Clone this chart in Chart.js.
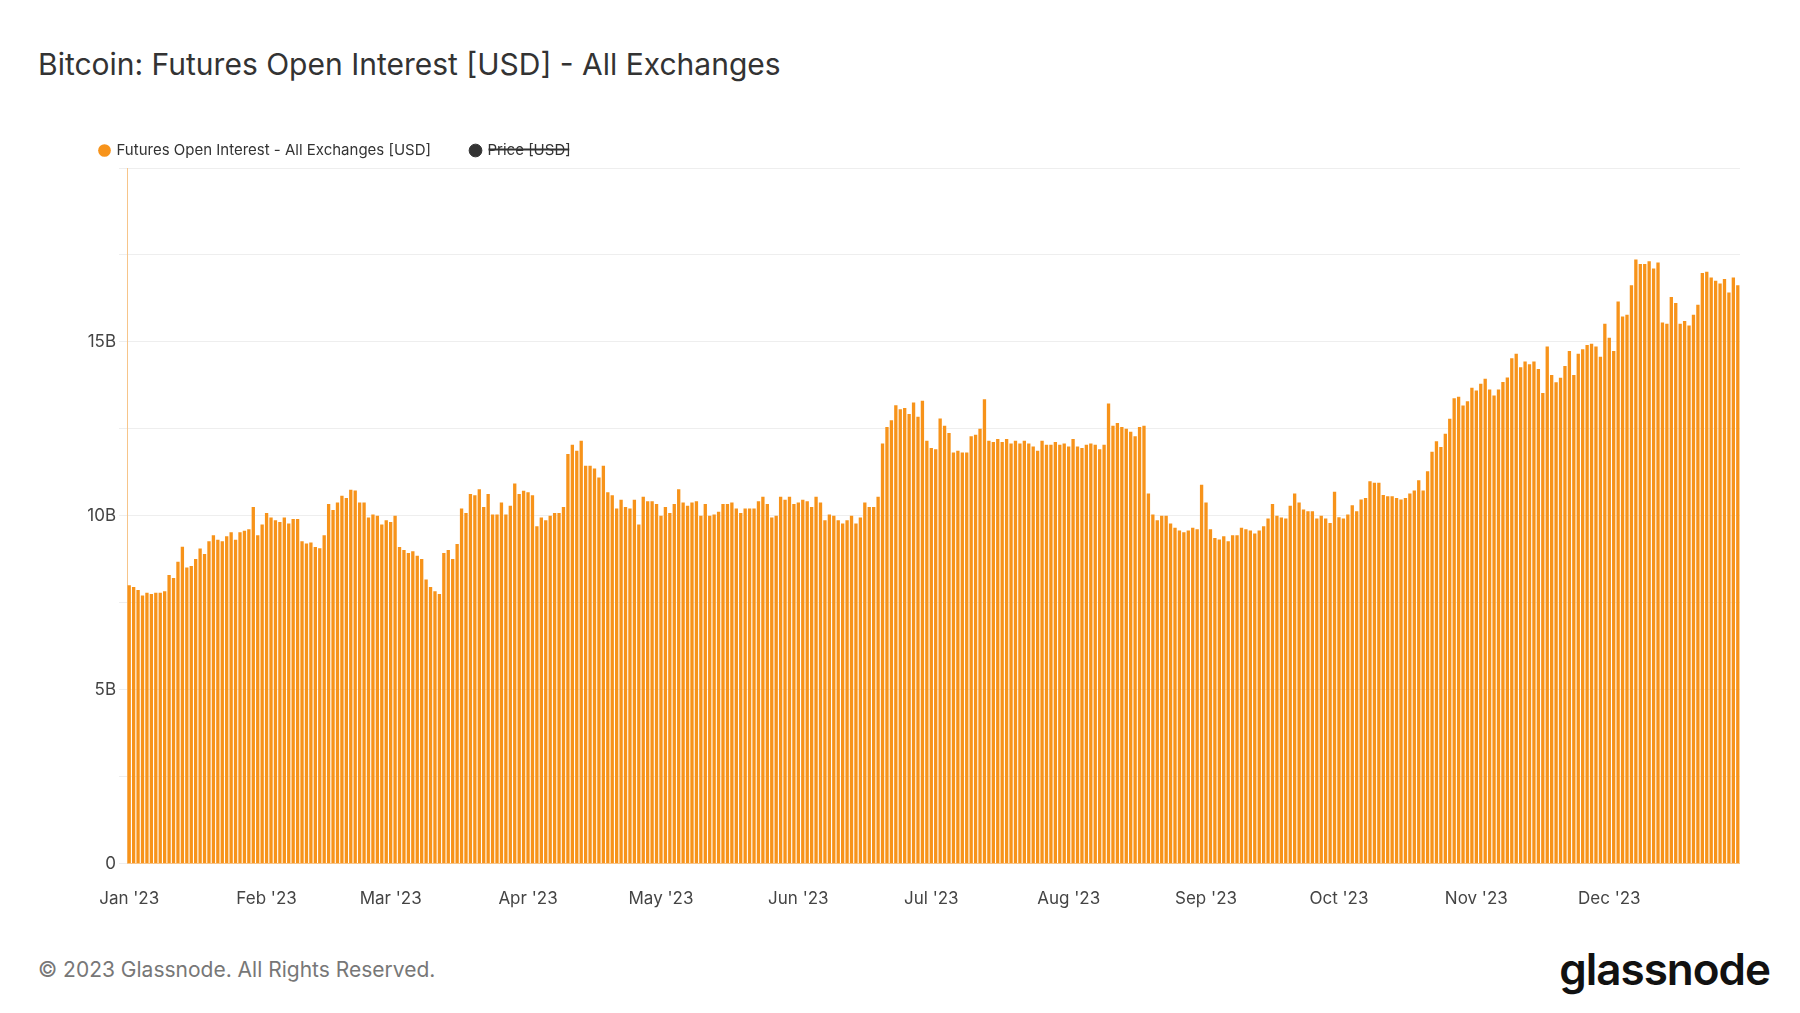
<!DOCTYPE html>
<html><head><meta charset="utf-8">
<script src="https://cdn.jsdelivr.net/npm/chart.js@4/dist/chart.umd.min.js"></script>
<style>
body{margin:0;background:#fff;font-family:Inter,"Noto Sans",sans-serif;width:1800px;height:1013px;overflow:hidden;position:relative}
#title{position:absolute;left:38px;top:46px;font-size:30px;color:#333;font-weight:400}
#foot{position:absolute;left:38px;top:957px;font-size:21px;color:#777}
#logo{position:absolute;right:30px;top:942px;font-size:44px;color:#111;font-weight:600;letter-spacing:-1px}
#wrap{position:absolute;left:60px;top:103px;width:1680px;height:823px}
</style></head><body>
<div id="title">Bitcoin: Futures Open Interest [USD] - All Exchanges</div>
<div id="wrap"><canvas id="c"></canvas></div>
<div id="foot">© 2023 Glassnode. All Rights Reserved.</div>
<div id="logo">glassnode</div>
<script>
const startDate = "2023-01-01";
const openInterestB = [
8.0,7.95,7.87,7.71,7.79,7.75,7.79,7.79,7.83,8.30,8.21,8.68,9.11,8.51,8.56,8.76,9.06,8.90,9.27,9.44,9.31,9.27,9.41,9.53,9.31,9.53,9.57,9.61,10.25,9.44,9.75,10.08,9.95,9.87,9.82,9.95,9.78,9.91,9.91,9.27,9.2,9.23,9.1,9.07,9.44,10.34,10.17,10.38,10.58,10.51,10.75,10.73,10.38,10.38,9.95,10.04,10.0,9.75,9.87,9.82,10.0,9.1,9.02,8.93,8.98,8.85,
8.76,8.17,7.95,7.83,7.75,8.93,9.02,8.76,9.19,10.21,10.08,10.63,10.59,10.76,10.25,10.63,10.04,10.04,10.38,10.04,10.29,10.93,10.63,10.72,10.68,10.59,9.7,9.95,9.87,10.0,10.08,10.08,10.25,11.78,12.04,11.87,12.16,11.44,11.44,11.36,11.1,11.44,10.68,10.59,10.21,10.46,10.25,10.21,10.46,9.75,10.55,10.42,10.42,10.34,10.0,10.25,10.08,10.34,10.76,10.38,10.29,10.38,10.42,10.0,10.34,10.0,
10.04,10.12,10.34,10.34,10.38,10.21,10.08,10.21,10.21,10.21,10.42,10.55,10.34,9.95,10.0,10.55,10.46,10.55,10.34,10.38,10.46,10.42,10.25,10.55,10.38,9.87,10.04,10.0,9.87,9.78,9.87,10.0,9.78,9.95,10.38,10.25,10.25,10.55,12.08,12.55,12.75,13.18,13.06,13.1,12.93,13.26,12.85,13.31,12.16,11.95,11.91,12.8,12.59,12.38,11.82,11.87,11.82,11.82,12.29,12.33,12.5,13.35,12.16,12.12,12.21,
12.12,12.21,12.08,12.16,12.08,12.16,12.08,11.99,11.87,12.16,12.04,12.04,12.12,12.04,12.08,11.99,12.21,11.99,11.95,12.04,12.08,12.04,11.91,12.04,13.23,12.59,12.67,12.55,12.5,12.42,12.29,12.55,12.59,10.64,10.04,9.87,10.0,10.0,9.78,9.66,9.58,9.53,9.58,9.66,9.61,10.89,10.38,9.61,9.36,9.32,9.41,9.27,9.44,9.44,9.66,9.61,9.58,9.49,9.58,9.7,9.92,10.34,10.0,9.95,9.92,10.29,10.64,10.38,
10.18,10.13,10.13,9.92,10.0,9.92,9.79,10.69,9.96,9.92,10.04,10.3,10.13,10.47,10.51,10.99,10.95,10.95,10.6,10.56,10.56,10.51,10.47,10.51,10.64,10.73,11.02,10.73,11.28,11.84,12.14,11.98,12.36,12.79,13.38,13.42,13.17,13.29,13.68,13.6,13.8,13.94,13.63,13.46,13.63,13.85,13.98,
14.53,14.66,14.27,14.44,14.36,14.44,14.22,13.53,14.87,14.05,13.84,13.97,14.31,14.74,14.05,14.66,14.79,14.91,14.95,14.87,14.57,15.52,15.12,14.74,16.16,15.73,15.78,16.63,17.37,17.24,17.24,17.32,17.11,17.28,15.56,15.52,16.29,16.12,15.52,15.6,15.47,15.78,16.07,16.98,17.02,16.85,16.76,16.68,16.81,16.42,16.85,16.63
];
const priceUSD = [];
const monthNames = ["Jan","Feb","Mar","Apr","May","Jun","Jul","Aug","Sep","Oct","Nov","Dec"];
const labels = openInterestB.map((_, i) => { const d = new Date(startDate + "T00:00:00Z"); d.setUTCDate(d.getUTCDate() + i); return d.toISOString().slice(0,10); });
const values = openInterestB.map(v => v * 1e9);
const font = {family:"Inter, 'Noto Sans', sans-serif", size:17};
new Chart(document.getElementById('c'), {
  data:{labels, datasets:[
    {type:'bar', label:'Futures Open Interest - All Exchanges [USD]', data:values, backgroundColor:'#f7931a', borderColor:'#f7931a', borderWidth:0, barPercentage:0.75, categoryPercentage:1, yAxisID:'y'},
    {type:'line', label:'Price [USD]', data:priceUSD, hidden:true, borderColor:'#333', backgroundColor:'#333', yAxisID:'y'}
  ]},
  options:{responsive:true, maintainAspectRatio:false, animation:false,
    layout:{padding:{left:0,right:0,top:0,bottom:0}},
    plugins:{legend:{position:'top', align:'start', labels:{usePointStyle:true, pointStyle:'circle', boxWidth:9, boxHeight:9, color:'#333', font:{...font, size:15}, padding:40}}, tooltip:{enabled:false}},
    scales:{
      x:{grid:{display:false, drawTicks:true}, border:{color:'#f7c58a'},
        ticks:{autoSkip:false, maxRotation:0, color:'#444', font, padding:17,
          callback:function(v,i){const s=labels[i]; if(s.slice(8)==='01'){return monthNames[+s.slice(5,7)-1]+" '23";} return null;}}},
      y:{min:0, max:20e9, afterFit:a=>{a.width=67;}, grid:{color:'#eee'}, border:{display:true,color:'#f7c58a'},
        ticks:{stepSize:2.5e9, color:'#444', font, callback:v=> (v%5e9===0 && v<20e9) ? (v===0?'0':(v/1e9)+'B') : ''}}
    }
  }
});
</script></body></html>
